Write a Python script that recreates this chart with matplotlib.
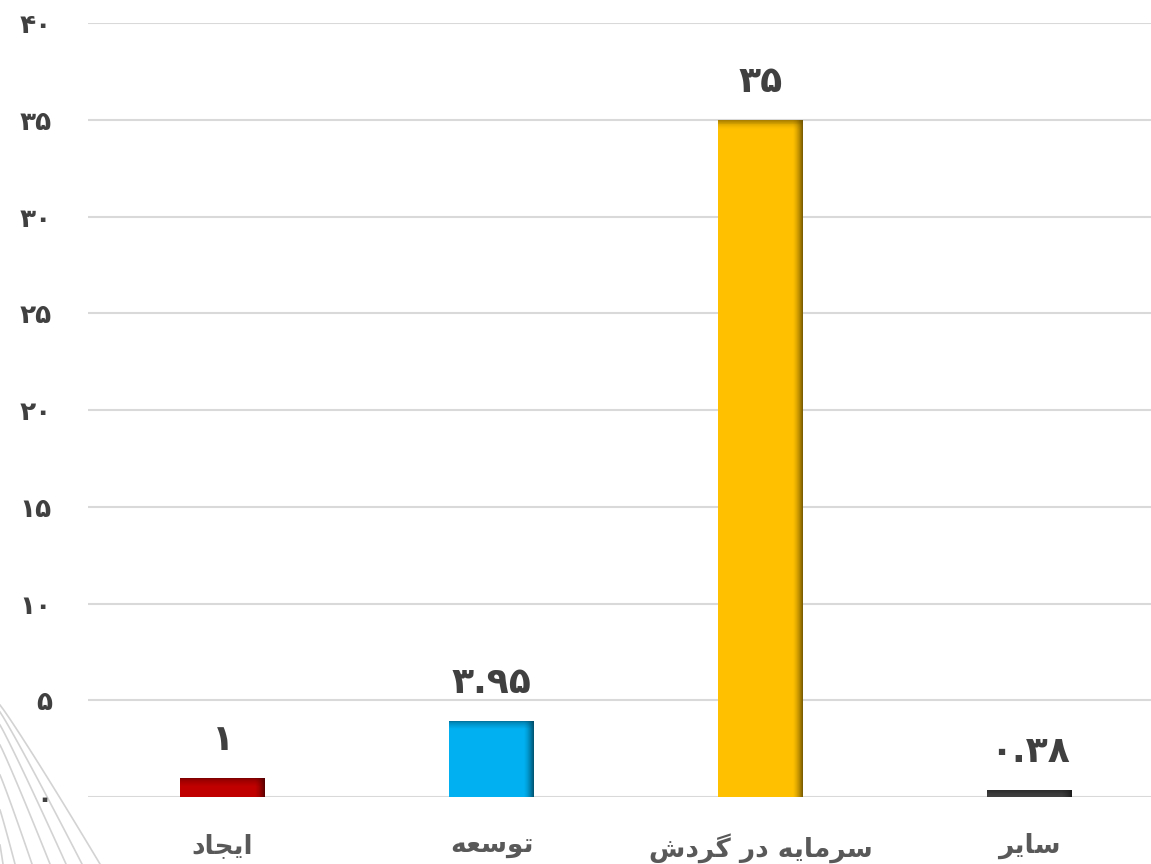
import numpy as np
import matplotlib.pyplot as plt
import matplotlib.colors as mcolors

# Persian text given in presentation forms, visual (left to right) order
categories = ['\uFEA9\uFE8E\uFEA0\uFBFE\uFE8D',                       # ایجاد
              '\uFEEA\uFECC\uFEB3\uFEEE\uFE97',                       # توسعه
              '\uFEB5\uFEA9\uFEAE\uFB94 \uFEAD\uFEA9 \uFEEA\uFBFE\uFE8E\uFEE3\uFEAE\uFEB3',  # سرمایه در گردش
              '\uFEAE\uFBFE\uFE8E\uFEB3']                              # سایر
values = [1, 3.95, 35, 0.38]
value_labels = ['\u06F1', '\u06F3.\u06F9\u06F5', '\u06F3\u06F5', '\u06F0.\u06F3\u06F8']
bar_colors = ['#C00000', '#00B0F0', '#FFC000', '#404040']

yticks = [0, 5, 10, 15, 20, 25, 30, 35, 40]
fa_digits = '\u06F0\u06F1\u06F2\u06F3\u06F4\u06F5\u06F6\u06F7\u06F8\u06F9'


def to_fa(n):
    return ''.join(fa_digits[int(c)] for c in str(n))


fig = plt.figure(figsize=(11.51, 8.64), dpi=100)

# decorative background strokes, bottom left corner (pixels)
starts = [705, 712, 725, 745, 775, 810, 845]
ends = [100, 82, 66, 50, 32, 15, 3]
for y0, x1 in zip(starts, ends):
    tt = np.linspace(0, 1, 30)
    xs = (x1 * tt) / 1151
    ys = 1 - (y0 + (864 - y0) * (tt ** 1.05)) / 864
    fig.add_artist(plt.Line2D(xs, ys, color='#D3D3D3', linewidth=1.2,
                              transform=fig.transFigure, zorder=0))

ax = fig.add_axes([0.0765, 0.0775, 0.935, 0.8955])
ax.patch.set_alpha(0)

x = np.arange(len(values))
w = 0.316
ax.bar(x, values, width=w, color=bar_colors, zorder=3)

# darker shading along the right and top edges of each bar
n = 10
top_h = 0.45
for i, (v, c) in enumerate(zip(values, bar_colors)):
    dark = np.array(mcolors.to_rgb(c)) * 0.4
    h = min(top_h, v)
    for k in range(n):
        sw = w * 0.12 / n
        ax.bar(x[i] + w / 2 - (k + 0.5) * sw, v, width=sw, color=dark,
               alpha=0.85 * (1 - k / n) ** 1.6, zorder=4, linewidth=0)
        sh = h / n
        ax.bar(x[i], sh, bottom=v - (k + 1) * sh, width=w, color=dark,
               alpha=0.55 * (1 - k / n) ** 1.6, zorder=4, linewidth=0)

for i, (v, lab) in enumerate(zip(values, value_labels)):
    ax.annotate(lab, (x[i], v), xytext=(0, 15), textcoords='offset points',
                ha='center', va='bottom', fontsize=26, fontweight='bold',
                color='#404040', family='DejaVu Sans')

ax.set_xlim(-0.5, len(values) - 0.5)
ax.set_ylim(0, 40)
ax.set_yticks(yticks)
ax.set_yticklabels([to_fa(t) for t in yticks], fontsize=19, fontweight='bold',
                   color='#404040')
ax.set_xticks(x)
ax.set_xticklabels(categories, fontsize=19, fontweight='bold', color='#595959')
ax.tick_params(axis='both', length=0)
ax.tick_params(axis='y', pad=26)
ax.tick_params(axis='x', pad=26)
ax.grid(axis='y', color='#D9D9D9', linewidth=1.5, zorder=0)
for s in ax.spines.values():
    s.set_visible(False)

plt.savefig('out.png')
